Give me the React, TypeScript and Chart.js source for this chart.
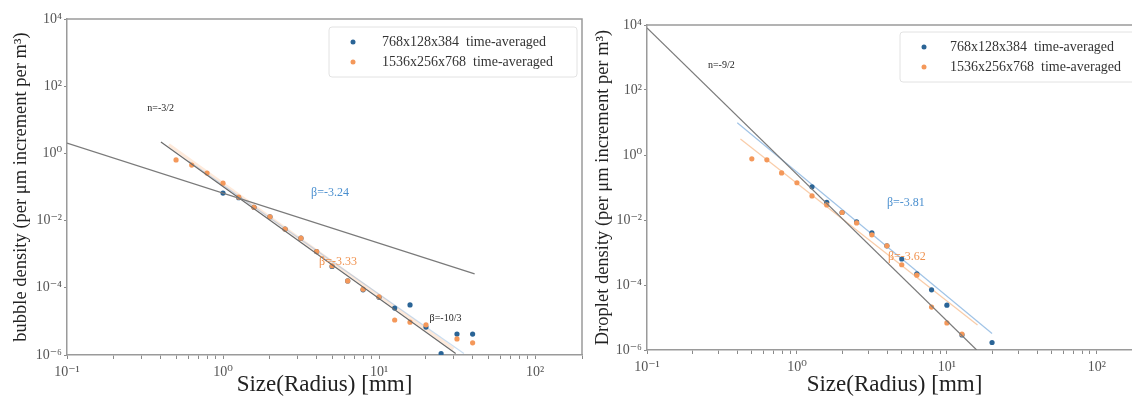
import React, { useEffect, useRef } from "react";
import { Chart, registerables } from "chart.js";
Chart.register(...registerables);

// ---------- data ----------
const LEFT_X_ORANGE = [0.5, 0.63, 0.79, 1.0, 1.26, 1.58, 2.0, 2.5, 3.16, 3.98, 5.0, 6.3, 7.9, 10, 12.6, 15.8, 20, 31.6, 39.8];
const LEFT_Y_ORANGE = [0.64, 0.45, 0.26, 0.13, 0.05, 0.025, 0.013, 0.0056, 0.003, 0.0012, 4.5e-4, 1.6e-4, 9.1e-5, 5.4e-5, 1.1e-5, 9.5e-6, 7.9e-6, 3.0e-6, 2.3e-6];
const LEFT_X_BLUE = [1.0, 1.26, 1.58, 2.0, 2.5, 3.16, 3.98, 5.0, 6.3, 7.9, 10, 12.6, 15.8, 20, 25, 31.6, 39.8];
const LEFT_Y_BLUE = [0.066, 0.048, 0.025, 0.013, 0.0056, 0.003, 0.0012, 4.3e-4, 1.6e-4, 8.7e-5, 5.2e-5, 2.5e-5, 3.1e-5, 6.8e-6, 1.1e-6, 4.2e-6, 4.2e-6];

const RIGHT_X_ORANGE = [0.5, 0.63, 0.79, 1.0, 1.26, 1.58, 2.0, 2.5, 3.16, 3.98, 5.0, 6.3, 7.9, 10, 12.6];
const RIGHT_Y_ORANGE = [0.76, 0.71, 0.28, 0.14, 0.055, 0.029, 0.017, 0.0081, 0.0035, 0.0016, 4.2e-4, 2.0e-4, 2.1e-5, 6.8e-6, 3.1e-6];
const RIGHT_X_BLUE = [1.26, 1.58, 2.0, 2.5, 3.16, 3.98, 5.0, 6.3, 7.9, 10, 12.6, 20];
const RIGHT_Y_BLUE = [0.105, 0.035, 0.017, 0.0087, 0.004, 0.0016, 6.3e-4, 2.2e-4, 7.1e-5, 2.4e-5, 2.9e-6, 1.7e-6];

// reference / fit lines: [x0, x1], [y0, y1]
const LEFT_REF_A_X = [0.1, 41];
const LEFT_REF_A_Y = [2.04, 2.6e-4];
const LEFT_REF_B_X = [0.4, 31];
const LEFT_REF_B_Y = [2.2, 1.1e-6];
const LEFT_FIT_BLUE_X = [0.6, 35];
const LEFT_FIT_BLUE_Y = [0.59, 1.1e-6];
const LEFT_FIT_ORANGE_X = [0.45, 30];
const LEFT_FIT_ORANGE_Y = [1.8, 1.5e-6];

const RIGHT_REF_X = [0.1, 15.8];
const RIGHT_REF_Y = [8100, 1.0e-6];
const RIGHT_FIT_BLUE_X = [0.4, 20];
const RIGHT_FIT_BLUE_Y = [9.8, 3.2e-6];
const RIGHT_FIT_ORANGE_X = [0.42, 16];
const RIGHT_FIT_ORANGE_Y = [3.1, 5.9e-6];

const SERIES_LABELS = ["768x128x384  time-averaged", "1536x256x768  time-averaged"];

const LEFT_NOTES = [
  { text: "n=-3/2", x: 0.327, y: 22, color: "#222", size: 10 },
  { text: "β=-3.24", x: 3.67, y: 0.066, color: "#4a8fcf", size: 12 },
  { text: "β=-3.33", x: 4.13, y: 5.9e-4, color: "#f0924f", size: 12 },
  { text: "β=-10/3", x: 21.1, y: 1.26e-5, color: "#222", size: 10 },
];
const RIGHT_NOTES = [
  { text: "n=-9/2", x: 0.255, y: 589, color: "#222", size: 10 },
  { text: "β=-3.81", x: 3.98, y: 0.033, color: "#4a8fcf", size: 12 },
  { text: "β=-3.62", x: 4.04, y: 7.2e-4, color: "#f0924f", size: 12 },
];

const X_MIN = 0.1;
const X_MAX = 200;
const Y_MIN = 1e-6;
const Y_MAX = 1e4;
const Y_TICKS = [1e-6, 1e-4, 1e-2, 1, 1e2, 1e4];
const X_TICKS: number[] = [];
for (let e = -1; e <= 2; e++) {
  for (let m = 1; m <= 9; m++) {
    const v = m * Math.pow(10, e);
    if (v <= X_MAX + 1e-9) X_TICKS.push(v);
  }
}

const BLUE = "#2a6496";
const ORANGE = "#f4985a";
const FONT = '"Liberation Serif", "DejaVu Serif", serif';

const SUP: Record<string, string> = { "-": "⁻", "0": "⁰", "1": "¹", "2": "²", "3": "³", "4": "⁴", "5": "⁵", "6": "⁶", "7": "⁷", "8": "⁸", "9": "⁹" };
function powLabel(v: number): string {
  const e = Math.round(Math.log10(v));
  const p = Math.pow(10, e);
  if (Math.abs(v - p) / p > 1e-6) return "";
  return "10" + String(e).split("").map((c) => SUP[c] || c).join("");
}

function pts(xs: number[], ys: number[]) {
  return xs.map((x, i) => ({ x, y: ys[i] }));
}

type Spec = {
  yTitle: string;
  yAxisWidth: number;
  xAxisHeight: number;
  padTop: number;
  padRight: number;
  yTitlePad: number;
  legendOffset: number;
  legendTextDx: number;
  legendTop: number;
  blue: { x: number; y: number }[];
  orange: { x: number; y: number }[];
  refs: { data: { x: number; y: number }[]; color: string; width: number; order: number }[];
  notes: { text: string; x: number; y: number; color: string; size: number }[];
};

function makeConfig(spec: Spec): any {
  const decor = {
    id: "decor",
    afterDatasetsDraw(chart: any) {
      const { ctx, chartArea } = chart;
      const xs = chart.scales.x;
      const ys = chart.scales.y;
      ctx.save();
      ctx.strokeStyle = "#9a9a9a";
      ctx.lineWidth = 1.5;
      ctx.beginPath();
      ctx.moveTo(chartArea.left, chartArea.top);
      ctx.lineTo(chartArea.right, chartArea.top);
      ctx.lineTo(chartArea.right, chartArea.bottom);
      ctx.stroke();
      ctx.textBaseline = "middle";
      ctx.textAlign = "left";
      for (const n of spec.notes) {
        ctx.fillStyle = n.color;
        ctx.font = `${n.size}px ${FONT}`;
        ctx.fillText(n.text, xs.getPixelForValue(n.x), ys.getPixelForValue(n.y));
      }
      const bx = chartArea.right - spec.legendOffset;
      const by = chartArea.top + spec.legendTop;
      const bw = 248;
      const bh = 50;
      ctx.fillStyle = "rgba(255,255,255,0.85)";
      ctx.strokeStyle = "#e2e2e2";
      ctx.lineWidth = 1;
      ctx.beginPath();
      (ctx as any).roundRect ? (ctx as any).roundRect(bx, by, bw, bh, 3) : ctx.rect(bx, by, bw, bh);
      ctx.fill();
      ctx.stroke();
      const colors = [BLUE, ORANGE];
      ctx.font = `14px ${FONT}`;
      for (let i = 0; i < 2; i++) {
        const cy = by + 15 + i * 20;
        ctx.fillStyle = colors[i];
        ctx.beginPath();
        ctx.arc(bx + 24, cy, 2.5, 0, Math.PI * 2);
        ctx.fill();
        ctx.fillStyle = "#333";
        ctx.fillText(SERIES_LABELS[i], bx + spec.legendTextDx, cy);
      }
      ctx.restore();
    },
  };

  const datasets: any[] = [
    { label: SERIES_LABELS[0], data: spec.blue, backgroundColor: BLUE, borderColor: BLUE, pointRadius: 2.6, pointBorderWidth: 0, showLine: false, order: 2 },
    { label: SERIES_LABELS[1], data: spec.orange, backgroundColor: ORANGE, borderColor: ORANGE, pointRadius: 2.6, pointBorderWidth: 0, showLine: false, order: 1 },
    ...spec.refs.map((r) => ({
      label: "",
      data: r.data,
      showLine: true,
      borderColor: r.color,
      borderWidth: r.width,
      pointRadius: 0,
      order: r.order,
    })),
  ];

  return {
    type: "scatter",
    data: { datasets },
    plugins: [decor],
    options: {
      animation: false,
      responsive: false,
      maintainAspectRatio: false,
      layout: { padding: { top: spec.padTop, right: spec.padRight, left: 0, bottom: 0 } },
      plugins: { legend: { display: false }, tooltip: { enabled: false } },
      scales: {
        x: {
          type: "logarithmic",
          min: X_MIN,
          max: X_MAX,
          afterFit: (s: any) => {
            s.height = spec.xAxisHeight;
          },
          afterBuildTicks: (s: any) => {
            s.ticks = X_TICKS.map((v) => ({ value: v }));
          },
          grid: { drawOnChartArea: false, tickLength: 4, color: "#8a8a8a" },
          border: { color: "#9a9a9a", width: 1.5 },
          ticks: {
            autoSkip: false,
            maxRotation: 0,
            minRotation: 0,
            padding: 5,
            color: "#555",
            font: { family: FONT, size: 14 },
            callback: (v: any) => powLabel(Number(v)),
          },
          title: {
            display: true,
            text: "Size(Radius) [mm]",
            color: "#222",
            font: { family: FONT, size: 23 },
            padding: { top: 2, bottom: 2 },
          },
        },
        y: {
          type: "logarithmic",
          min: Y_MIN,
          max: Y_MAX,
          afterFit: (s: any) => {
            s.width = spec.yAxisWidth;
          },
          afterBuildTicks: (s: any) => {
            s.ticks = Y_TICKS.map((v) => ({ value: v }));
          },
          grid: { drawOnChartArea: false, tickLength: 3, color: "#8a8a8a" },
          border: { color: "#9a9a9a", width: 1.5 },
          ticks: {
            autoSkip: false,
            padding: 2,
            color: "#555",
            font: { family: FONT, size: 14 },
            callback: (v: any) => powLabel(Number(v)),
          },
          title: {
            display: true,
            text: spec.yTitle,
            color: "#222",
            font: { family: FONT, size: 18.5 },
            padding: { top: spec.yTitlePad, bottom: 0 },
          },
        },
      },
    },
  };
}

function ChartCanvas({ spec, width, height, left }: { spec: Spec; width: number; height: number; left: number }) {
  const ref = useRef<HTMLCanvasElement | null>(null);
  useEffect(() => {
    if (!ref.current) return;
    const chart = new Chart(ref.current, makeConfig(spec));
    return () => chart.destroy();
  }, []);
  return (
    <canvas
      ref={ref}
      width={width}
      height={height}
      style={{ position: "absolute", left, top: 0, width, height, display: "block" }}
    />
  );
}

const LEFT_SPEC: Spec = {
  yTitle: "bubble density (per μm increment per m³)",
  yAxisWidth: 67,
  xAxisHeight: 46,
  padTop: 19,
  padRight: 13,
  yTitlePad: 10,
  legendOffset: 253,
  legendTextDx: 53,
  legendTop: 8,
  blue: pts(LEFT_X_BLUE, LEFT_Y_BLUE),
  orange: pts(LEFT_X_ORANGE, LEFT_Y_ORANGE),
  refs: [
    { data: pts(LEFT_REF_A_X, LEFT_REF_A_Y), color: "#7a7a7a", width: 1.2, order: 0 },
    { data: pts(LEFT_REF_B_X, LEFT_REF_B_Y), color: "#6a6a6a", width: 1.2, order: 0 },
    { data: pts(LEFT_FIT_BLUE_X, LEFT_FIT_BLUE_Y), color: "rgba(120,170,220,0.4)", width: 1.2, order: 3 },
    { data: pts(LEFT_FIT_ORANGE_X, LEFT_FIT_ORANGE_Y), color: "rgba(250,170,110,0.25)", width: 3, order: 3 },
  ],
  notes: LEFT_NOTES,
};

const RIGHT_SPEC: Spec = {
  yTitle: "Droplet density (per μm increment per m³)",
  yAxisWidth: 57,
  xAxisHeight: 51,
  padTop: 25,
  padRight: 8,
  yTitlePad: 2.5,
  legendOffset: 242,
  legendTextDx: 50,
  legendTop: 7,
  blue: pts(RIGHT_X_BLUE, RIGHT_Y_BLUE),
  orange: pts(RIGHT_X_ORANGE, RIGHT_Y_ORANGE),
  refs: [
    { data: pts(RIGHT_REF_X, RIGHT_REF_Y), color: "#7a7a7a", width: 1.2, order: 0 },
    { data: pts(RIGHT_FIT_BLUE_X, RIGHT_FIT_BLUE_Y), color: "rgba(120,170,220,0.7)", width: 1.2, order: 3 },
    { data: pts(RIGHT_FIT_ORANGE_X, RIGHT_FIT_ORANGE_Y), color: "rgba(245,170,110,0.6)", width: 1.2, order: 3 },
  ],
  notes: RIGHT_NOTES,
};

export default function App() {
  return (
    <div style={{ position: "absolute", left: 0, top: 0, width: 1132, height: 401, overflow: "hidden", background: "#fff" }}>
      <ChartCanvas spec={LEFT_SPEC} width={595} height={401} left={0} />
      <ChartCanvas spec={RIGHT_SPEC} width={560} height={401} left={590} />
    </div>
  );
}
